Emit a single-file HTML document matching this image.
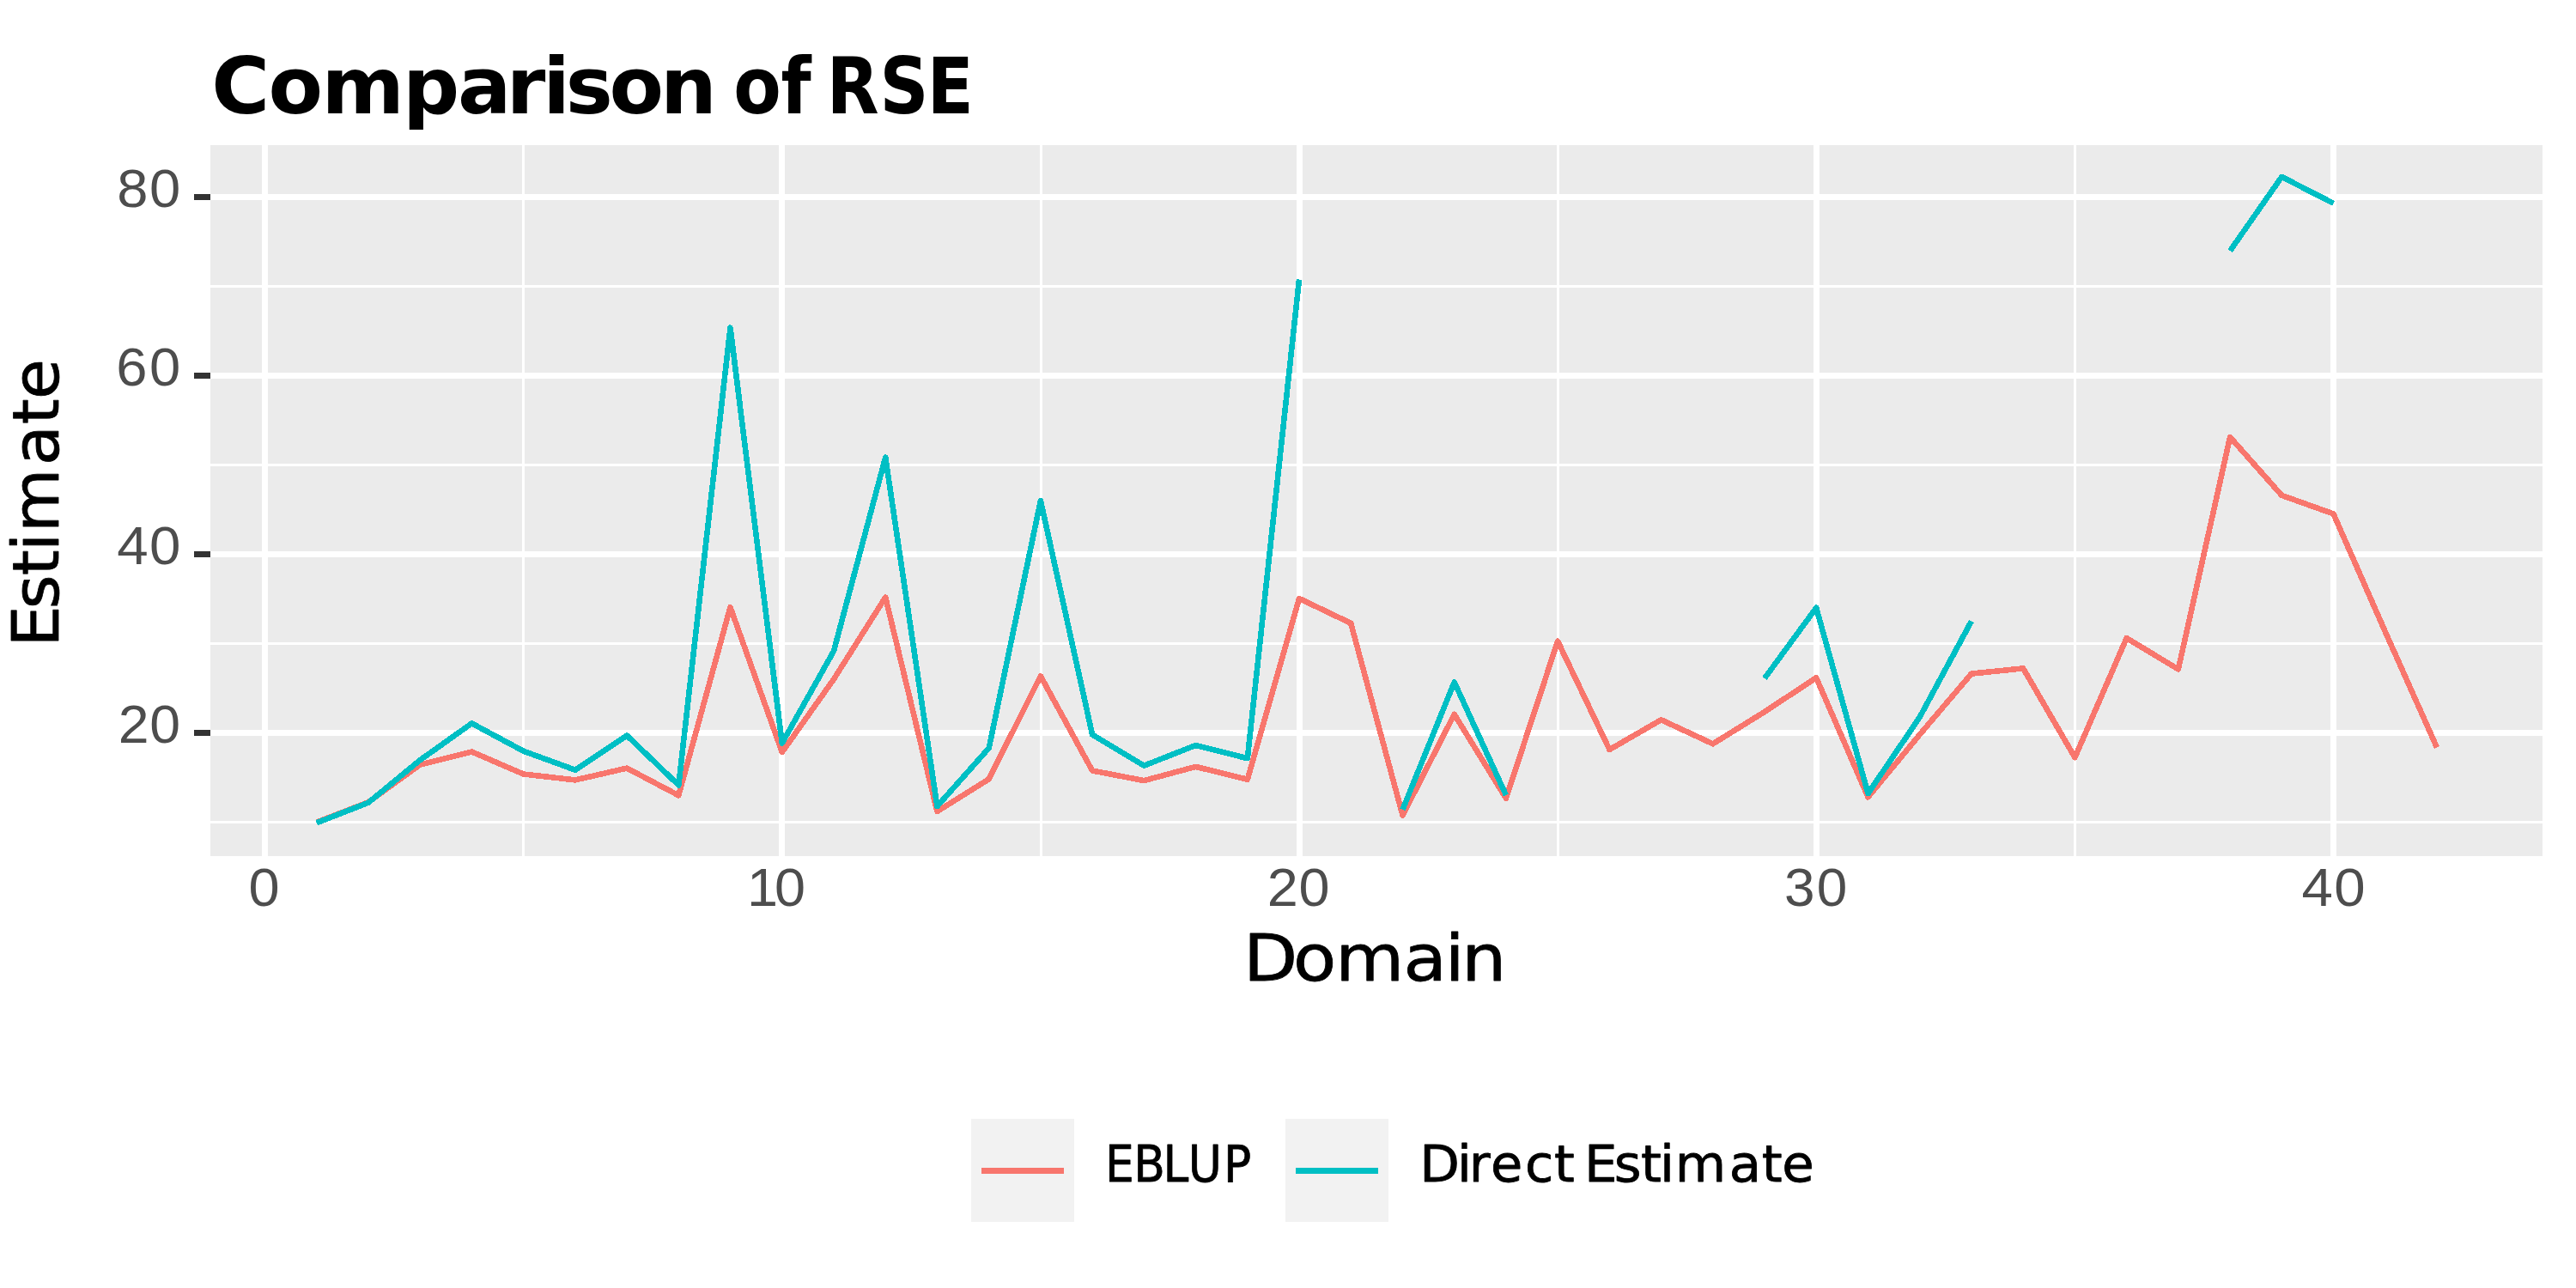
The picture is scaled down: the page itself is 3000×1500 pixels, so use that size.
<!DOCTYPE html>
<html lang="en"><head><meta charset="utf-8"><title>Comparison of RSE</title>
<style>
html,body{margin:0;padding:0;background:#fff;}
svg{display:block;}
text{font-family:'DejaVu Sans', 'Liberation Sans', sans-serif;white-space:pre;}
text.n{font-family:'Liberation Sans', 'DejaVu Sans', sans-serif;}
text.b{stroke:#000;stroke-width:0.8px;stroke-linejoin:round;}
</style></head>
<body>
<svg width="3000" height="1500" viewBox="0 0 3000 1500">
<rect width="3000" height="1500" fill="#fff"/>
<rect x="245" y="169" width="2716" height="828" fill="#EBEBEB"/>
<g fill="#fff" shape-rendering="crispEdges">
<rect x="245" y="332" width="2716" height="3"/>
<rect x="245" y="540" width="2716" height="3"/>
<rect x="245" y="748" width="2716" height="3"/>
<rect x="245" y="956" width="2716" height="3"/>
<rect x="608" y="169" width="3" height="828"/>
<rect x="1211" y="169" width="3" height="828"/>
<rect x="1813" y="169" width="3" height="828"/>
<rect x="2415" y="169" width="3" height="828"/>
<rect x="245" y="226" width="2716" height="7"/>
<rect x="245" y="434" width="2716" height="7"/>
<rect x="245" y="642" width="2716" height="7"/>
<rect x="245" y="850" width="2716" height="7"/>
<rect x="305" y="169" width="7" height="828"/>
<rect x="907" y="169" width="7" height="828"/>
<rect x="1510" y="169" width="7" height="828"/>
<rect x="2112" y="169" width="7" height="828"/>
<rect x="2714" y="169" width="7" height="828"/>
</g>
<g fill="none" stroke-width="6.6" stroke-linejoin="round" stroke-linecap="butt" shape-rendering="crispEdges">
<path stroke="#F8766D" d="M368.7,957.6 L428.9,934.3 L489.2,890.5 L549.4,875.5 L609.6,901.5 L669.9,908.4 L730.1,894.6 L790.3,926.3 L850.5,707.1 L910.8,876.0 L971.0,791.0 L1031.2,695.6 L1091.4,945.0 L1151.7,907.3 L1211.9,787.4 L1272.1,897.5 L1332.3,909.1 L1392.5,892.9 L1452.8,907.7 L1513.0,697.0 L1573.2,725.8 L1633.5,949.5 L1693.7,831.9 L1753.9,929.7 L1814.1,746.7 L1874.4,873.0 L1934.6,838.3 L1994.8,866.3 L2055.0,829.0 L2115.2,789.3 L2175.5,928.3 L2235.7,855.5 L2295.9,784.6 L2356.2,778.4 L2416.4,882.2 L2476.6,743.1 L2536.8,779.4 L2597.1,509.0 L2657.3,576.9 L2717.5,598.4 L2777.7,735.4 L2838.0,870.5"/>
<path stroke="#00BFC4" d="M368.7,958.3 L428.9,934.8 L489.2,885.2 L549.4,842.4 L609.6,874.7 L669.9,896.7 L730.1,856.6 L790.3,914.4 L850.5,381.7 L910.8,865.4 L971.0,758.2 L1031.2,532.6 L1091.4,939.1 L1151.7,871.2 L1211.9,583.1 L1272.1,855.6 L1332.3,891.7 L1392.5,868.0 L1452.8,883.2 L1513.0,325.5 M1633.5,942.8 L1693.7,794.4 L1753.9,926.1 M2055.0,790.0 L2115.2,707.8 L2175.5,924.1 L2235.7,835.2 L2295.9,723.4 M2597.1,292.1 L2657.3,205.9 L2717.5,236.8"/>
</g>
<g fill="#333" shape-rendering="crispEdges">
<rect x="226" y="226" width="19" height="7"/>
<rect x="226" y="434" width="19" height="7"/>
<rect x="226" y="642" width="19" height="7"/>
<rect x="226" y="850" width="19" height="7"/>
</g>
<rect x="1131" y="1303" width="120" height="120" fill="#F2F2F2"/>
<rect x="1497" y="1303" width="120" height="120" fill="#F2F2F2"/>
<rect x="1143" y="1360" width="96" height="7" fill="#F8766D"/>
<rect x="1509" y="1360" width="96" height="7" fill="#00BFC4"/>
<text transform="translate(0,131.80) scale(1.0279,1)" x="239.52 304.03 364.31 456.26 518.46 573.76 615.15 640.79 690.21 748.24" y="0" font-size="90.0" font-weight="bold" fill="#000">Comparison</text>
<text transform="translate(0,131.80) scale(0.8986,1)" x="950.57 1012.16" y="0" font-size="90.0" font-weight="bold" fill="#000">of</text>
<text transform="translate(0,131.80) scale(0.8794,1)" x="1094.72 1165.11 1227.71" y="0" font-size="90.0" font-weight="bold" fill="#000">RSE</text>
<text class="b" transform="translate(0,1141.60) scale(1.1092,1)" x="1305.34 1357.82 1402.19 1473.52 1517.12 1534.72" y="0" font-size="74.0" font-weight="normal" fill="#000">Domain</text>
<text class="b" transform="translate(67.90,0) rotate(-90) scale(1.0313,1)" x="-730.52 -687.77 -649.89 -622.56 -601.14 -525.49 -479.33 -450.91" y="0" font-size="74.0" font-weight="normal" fill="#000">Estimate</text>
<text class="n" transform="translate(0,1055.40) scale(1.0321,1)" x="280.39" y="0" font-size="62.9" font-weight="normal" fill="#4D4D4D">0</text>
<text class="n" transform="translate(0,1055.40) scale(1.0300,1)" x="844.79 875.67" y="0" font-size="62.9" font-weight="normal" fill="#4D4D4D">10</text>
<text class="n" transform="translate(0,1055.40) scale(1.0298,1)" x="1432.93 1468.68" y="0" font-size="62.9" font-weight="normal" fill="#4D4D4D">20</text>
<text class="n" transform="translate(0,1055.40) scale(1.0165,1)" x="2044.36 2081.36" y="0" font-size="62.9" font-weight="normal" fill="#4D4D4D">30</text>
<text class="n" transform="translate(0,1055.40) scale(1.0405,1)" x="2576.11 2612.44" y="0" font-size="62.9" font-weight="normal" fill="#4D4D4D">40</text>
<text class="n" transform="translate(0,241.30) scale(1.0353,1)" x="131.64 168.12" y="0" font-size="62.9" font-weight="normal" fill="#4D4D4D">80</text>
<text class="n" transform="translate(0,449.30) scale(1.0351,1)" x="130.70 168.15" y="0" font-size="62.9" font-weight="normal" fill="#4D4D4D">60</text>
<text class="n" transform="translate(0,657.30) scale(1.0405,1)" x="130.86 167.19" y="0" font-size="62.9" font-weight="normal" fill="#4D4D4D">40</text>
<text class="n" transform="translate(0,865.30) scale(1.0229,1)" x="134.66 170.36" y="0" font-size="62.9" font-weight="normal" fill="#4D4D4D">20</text>
<text class="b" transform="translate(0,1375.70) scale(0.9069,1)" x="1419.14 1455.89 1493.52 1525.76 1571.29" y="0" font-size="59.0" font-weight="normal" fill="#000">EBLUP</text>
<text class="b" transform="translate(0,1375.70) scale(1.0273,1)" x="1609.26 1651.83 1665.30 1689.82 1728.73 1761.85" y="0" font-size="59.0" font-weight="normal" fill="#000">Direct</text>
<text class="b" transform="translate(0,1375.70) scale(1.0345,1)" x="1783.38 1817.17 1847.17 1868.50 1885.60 1946.72 1983.33 2006.06" y="0" font-size="59.0" font-weight="normal" fill="#000">Estimate</text>
</svg>
</body></html>
